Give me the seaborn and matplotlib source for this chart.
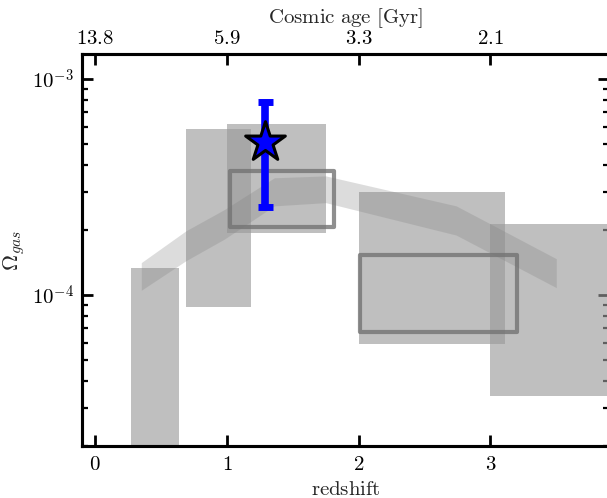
import numpy as np
import matplotlib
matplotlib.use("Agg")
import matplotlib.pyplot as plt
from matplotlib.ticker import FuncFormatter
import seaborn as sns

# ---- data ----
rect_z_lo = [0.27, 0.69, 1.00, 2.00, 3.00]
rect_z_hi = [0.64, 1.18, 1.75, 3.11, 4.00]
rect_lo = [1.0e-5, 8.8e-5, 1.94e-4, 5.9e-5, 3.4e-5]
rect_hi = [1.33e-4, 5.85e-4, 6.2e-4, 2.98e-4, 2.13e-4]

box_z_lo = [1.02, 2.01]
box_z_hi = [1.81, 3.20]
box_lo = [2.05e-4, 6.7e-5]
box_hi = [3.72e-4, 1.53e-4]

band_z = [0.35, 0.69, 0.98, 1.36, 1.75, 2.74, 3.50]
band_hi = [1.41e-4, 1.98e-4, 2.48e-4, 3.48e-4, 3.55e-4, 2.58e-4, 1.47e-4]
band_lo = [1.05e-4, 1.44e-4, 1.81e-4, 2.58e-4, 2.67e-4, 1.89e-4, 1.08e-4]

point_z = [1.29]
point_val = [5.1e-4]
point_err_lo = [2.56e-4]
point_err_hi = [7.8e-4]

xticks = [0, 1, 2, 3]
age_labels = ["13.8", "5.9", "3.3", "2.1"]

# ---- style ----
sns.set_theme(style="ticks")
plt.rcParams["mathtext.fontset"] = "cm"

fig = plt.figure(figsize=(6.07, 4.98), dpi=100)
ax = fig.add_axes([82 / 607, 52 / 498, (609 - 82) / 607, (446 - 54) / 498])

# filled gray rectangles
ax.bar(rect_z_lo, np.array(rect_hi) - np.array(rect_lo),
       width=np.array(rect_z_hi) - np.array(rect_z_lo), bottom=rect_lo,
       align="edge", color="0.6", alpha=0.625, linewidth=0, zorder=1)

# light band
ax.fill_between(band_z, band_lo, band_hi, color="0.5", alpha=0.27,
                linewidth=0, zorder=2)

# outlined boxes
bars = ax.bar(box_z_lo, np.array(box_hi) - np.array(box_lo),
              width=np.array(box_z_hi) - np.array(box_z_lo), bottom=box_lo,
              align="edge", fill=False, edgecolor="0.45", alpha=0.8,
              linewidth=3.0, zorder=3)
for b in bars:
    b.set_joinstyle("round")

# blue point with error bar
yerr = [[point_val[0] - point_err_lo[0]], [point_err_hi[0] - point_val[0]]]
ax.errorbar(point_z, point_val, yerr=yerr, fmt="none", ecolor="blue",
            elinewidth=5.5, capsize=5.4, capthick=5, zorder=4)
sns.scatterplot(x=point_z, y=point_val, marker="*", s=30 ** 2, color="blue",
                edgecolor="black", linewidth=2.2, zorder=5, ax=ax, legend=False)

ax.set_yscale("log")
ax.set_xlim(-0.1, 3.9)
ax.set_ylim(2.0e-5, 1.3e-3)
ax.set_xticks(xticks)
ax.set_xticklabels([rf"${t}$" for t in xticks])
ax.yaxis.set_major_formatter(
    FuncFormatter(lambda v, p: rf"$10^{{{int(round(np.log10(v)))}}}$"))

for s in ax.spines.values():
    s.set_linewidth(2.2)
    s.set_color("black")

ax.tick_params(which="major", direction="in", length=8, width=2.0,
               labelsize=15, pad=6, right=True, top=False, colors="black")
ax.tick_params(which="minor", direction="in", length=4, width=1.6,
               right=True, top=False, colors="black")
ax.tick_params(axis="x", which="minor", bottom=False, top=False)

ax.set_xlabel(r"$\mathrm{redshift}$", fontsize=15, labelpad=3)
ax.set_ylabel(r"$\Omega_{gas}$", fontsize=16)
ax.yaxis.set_label_coords(-0.104, 0.5)

# top axis: cosmic age
ax2 = ax.twiny()
ax2.set_xlim(ax.get_xlim())
ax2.set_xticks(xticks)
ax2.set_xticklabels([rf"${a}$" for a in age_labels])
ax2.tick_params(which="major", direction="in", length=8, width=2.0,
                labelsize=15, pad=4, colors="black")
ax2.tick_params(axis="x", which="minor", top=False, bottom=False)
for s in ax2.spines.values():
    s.set_linewidth(2.2)
    s.set_color("black")
ax2.set_xlabel(r"$\mathrm{Cosmic\ age\ [Gyr]}$", fontsize=15, labelpad=4)

fig.savefig("out.png", dpi=100)
